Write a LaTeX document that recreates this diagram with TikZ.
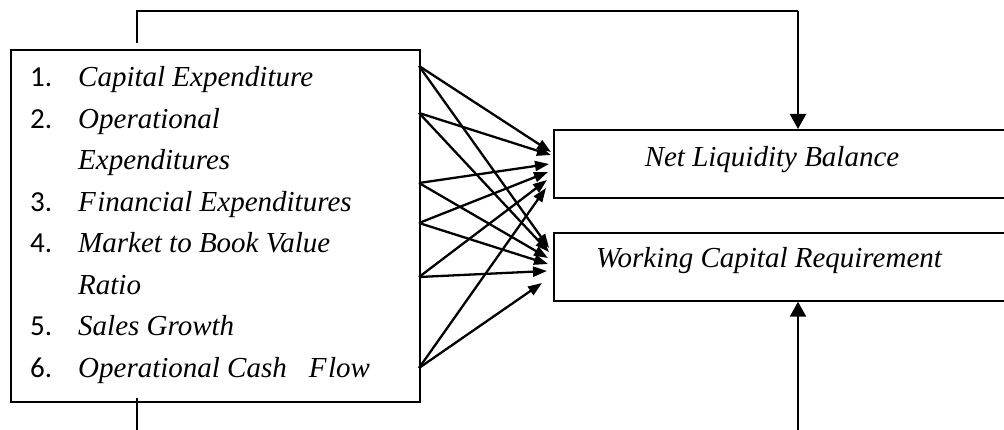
\documentclass[tikz,border=0pt]{standalone}
\usepackage{fontspec}
\setmainfont{Liberation Serif}
\newfontfamily\numfont{Carlito}
\usetikzlibrary{arrows.meta}
\tikzset{
  box/.style={draw, line width=1.7pt, rectangle, inner sep=0pt, anchor=north west},
  num/.style={anchor=base west, inner sep=0pt, font=\numfont\fontsize{29}{34}\selectfont},
  itm/.style={anchor=base west, inner sep=0pt, font=\fontsize{29}{34}\selectfont\itshape},
  lbl/.style={anchor=base, inner sep=0pt, font=\fontsize{29}{34}\selectfont\itshape},
  fan/.style={line width=2.3pt, -{Triangle[length=14pt,width=10pt]}},
  link/.style={line width=1.8pt},
  vtip/.style={line width=2.2pt, -{Triangle[length=15pt,width=16pt]}}
}
\begin{document}
\begin{tikzpicture}[x=1pt,y=-1pt]
\useasboundingbox (0,0) rectangle (1004,430);
% boxes
\node[box, minimum width=409pt, minimum height=352pt] (L) at (10,49) {};
\node[box, minimum width=470pt, minimum height=68pt] (R1) at (553,129) {};
\node[box, minimum width=470pt, minimum height=68pt] (R2) at (553,232) {};
% left list
\node[num] (n1) at (30,87) {1.};
\node[itm] (i1) at (78,87) {Capital Expenditure};
\node[num] (n2) at (30,128.4) {2.};
\node[itm] (i2) at (78,128.4) {Operational};
\node[itm] (i2b) at (78,169.9) {Expenditures};
\node[num] (n3) at (30,211.3) {3.};
\node[itm] (i3) at (78,211.3) {F\kern1.5pt inancial Expenditures};
\node[num] (n4) at (30,252.7) {4.};
\node[itm] (i4) at (78,252.7) {Market to Book Value};
\node[itm] (i4b) at (78,294.1) {Ratio};
\node[num] (n5) at (30,335.6) {5.};
\node[itm] (i5) at (78,335.6) {Sales Growth};
\node[num] (n6) at (30,377) {6.};
\node[itm] (i6) at (78,377) {Operational Cash\hspace{22pt}F\kern1.5pt low};
% right labels
\node[lbl] (t1) at (772,167) {Net Liquidity Balance};
\node[lbl] (t2) at (769,268) {Working Capital Requirement};
% fan sources
\coordinate (s1) at (419,66);
\coordinate (s2) at (419,113);
\coordinate (s3) at (419,183);
\coordinate (s4) at (419,223);
\coordinate (s5) at (419,277);
\coordinate (s6) at (419,368);
% fan targets
\coordinate (a1) at (551,152);
\coordinate (a2) at (551,155);
\coordinate (a3) at (549,164);
\coordinate (a4) at (548,172);
\coordinate (a5) at (547,180);
\coordinate (a6) at (546,188);
\coordinate (b1) at (549,248);
\coordinate (b2) at (549,252);
\coordinate (b3) at (548,258);
\coordinate (b4) at (548,264);
\coordinate (b5) at (547,271);
\coordinate (b6) at (542,283);
\foreach \i in {1,...,6} {
  \draw[fan] (s\i) -- (a\i);
  \draw[fan] (s\i) -- (b\i);
}
% feedback connectors
\coordinate (u0) at (137,43);
\coordinate (u1) at (137,11);
\coordinate (u2) at (798,11);
\draw[link] (u0) -- (u1) -- (u2);
\draw[vtip] (u2) -- (u2 |- R1.north);
\coordinate (d0) at (137,398);
\coordinate (d1) at (137,432);
\draw[link] (d0) -- (d1);
\coordinate (e0) at (798,432);
\draw[vtip] (e0) -- (e0 |- R2.south);
\end{tikzpicture}
\end{document}
